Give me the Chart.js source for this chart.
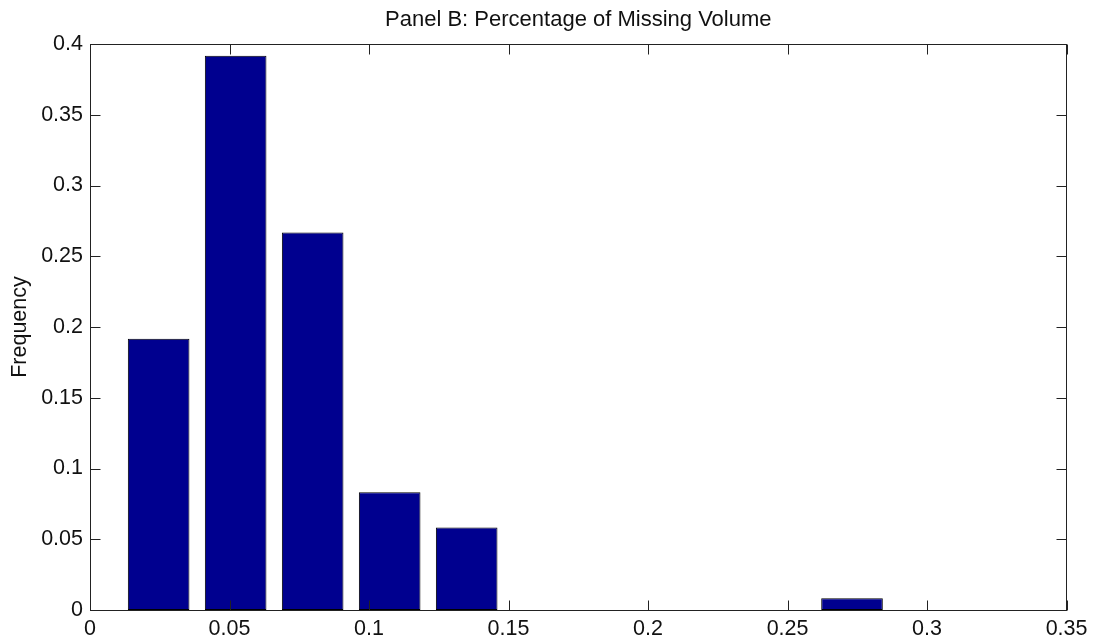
<!DOCTYPE html>
<html>
<head>
<meta charset="utf-8">
<title>Panel B: Percentage of Missing Volume</title>
<script src="https://cdn.jsdelivr.net/npm/chart.js@4.4.1/dist/chart.umd.min.js"></script>
<style>
  html, body { margin: 0; padding: 0; background: #ffffff; }
  #wrap { width: 1094px; height: 642px; }
  canvas { display: block; }
</style>
</head>
<body>
<div id="wrap"><canvas id="hist" width="1094" height="642"></canvas></div>
<script>
// Histogram bins: centre of each bin and the share of observations in it
const binCenters = [0.0246, 0.0522, 0.0798, 0.1074, 0.1350, 0.1626, 0.1903, 0.2179, 0.2455, 0.2731];
const frequencies = [0.1917, 0.3917, 0.2667, 0.0833, 0.0583, 0, 0, 0, 0, 0.0083];

// Axis ticks
const xTickValues = [0, 0.05, 0.1, 0.15, 0.2, 0.25, 0.3, 0.35];
const xTickLabels = ['0', '0.05', '0.1', '0.15', '0.2', '0.25', '0.3', '0.35'];
const yTickValues = [0, 0.05, 0.1, 0.15, 0.2, 0.25, 0.3, 0.35, 0.4];
const yTickLabels = ['0', '0.05', '0.1', '0.15', '0.2', '0.25', '0.3', '0.35', '0.4'];

const titleText = 'Panel B: Percentage of Missing Volume';
const yAxisTitle = 'Frequency';

const FONT = '"Liberation Sans", Arial, Helvetica, sans-serif';
const INK = '#111111';
const AXIS = '#222222';

Chart.defaults.font.family = FONT;
Chart.defaults.color = INK;

// White page behind the plot
const whiteBackground = {
  id: 'whiteBackground',
  beforeDraw(chart) {
    const ctx = chart.ctx;
    ctx.save();
    ctx.fillStyle = '#ffffff';
    ctx.fillRect(0, 0, chart.width, chart.height);
    ctx.restore();
  }
};

// Boxed axes with short inward tick marks on all four sides
const boxedAxes = {
  id: 'boxedAxes',
  afterDatasetsDraw(chart) {
    const { ctx, chartArea: a, scales } = chart;
    const L = Math.floor(a.left) + 0.5;
    const R = Math.floor(a.right) + 0.5;
    const T = Math.floor(a.top) + 0.5;
    const B = Math.floor(a.bottom) + 0.5;
    const len = 10;
    ctx.save();
    ctx.strokeStyle = AXIS;
    ctx.lineWidth = 1;
    ctx.beginPath();
    scales.x.ticks.forEach(t => {
      const px = Math.round(scales.x.getPixelForValue(t.value)) + 0.5;
      ctx.moveTo(px, B); ctx.lineTo(px, B - len);
      ctx.moveTo(px, T); ctx.lineTo(px, T + len);
    });
    scales.y.ticks.forEach(t => {
      const py = Math.round(scales.y.getPixelForValue(t.value)) + 0.5;
      ctx.moveTo(L, py); ctx.lineTo(L + len, py);
      ctx.moveTo(R, py); ctx.lineTo(R - len, py);
    });
    ctx.stroke();
    ctx.strokeRect(L, T, R - L, B - T);
    ctx.restore();
  }
};

new Chart(document.getElementById('hist'), {
  type: 'bar',
  data: {
    datasets: [{
      data: binCenters.map((x, i) => ({ x: x, y: frequencies[i] })),
      backgroundColor: '#00008F',
      borderColor: '#000000',
      borderWidth: 1,
      borderSkipped: false,
      categoryPercentage: 0.8,
      barPercentage: 1.0
    }]
  },
  options: {
    responsive: false,
    animation: false,
    devicePixelRatio: 1,
    layout: { padding: { left: 0, right: 27, top: 0, bottom: 0 } },
    plugins: {
      legend: { display: false },
      tooltip: { enabled: false },
      title: { display: false }
    },
    scales: {
      x: {
        type: 'linear',
        position: 'bottom',
        min: 0,
        max: 0.35,
        offset: false,
        grid: { display: false, drawTicks: false, offset: false },
        border: { display: false },
        afterBuildTicks(scale) {
          scale.ticks = xTickValues.map(v => ({ value: v }));
        },
        afterFit(scale) { scale.height = 32; },
        ticks: {
          autoSkip: false,
          maxRotation: 0,
          padding: 6.5,
          color: INK,
          font: { family: FONT, size: 21.5 },
          callback(value) {
            const i = xTickValues.findIndex(v => Math.abs(v - value) < 1e-9);
            return i >= 0 ? xTickLabels[i] : '';
          }
        }
      },
      // Top frame edge carrying the panel title, centred over the plot area
      xTop: {
        type: 'linear',
        position: 'top',
        display: true,
        min: 0,
        max: 0.35,
        offset: false,
        grid: { display: false, drawTicks: false },
        border: { display: false },
        ticks: { display: false },
        afterFit(scale) { scale.height = 44; },
        title: {
          display: true,
          text: titleText,
          color: INK,
          font: { family: FONT, size: 22, weight: 'normal' },
          padding: { top: 7.2, bottom: 0 }
        }
      },
      y: {
        type: 'linear',
        min: 0,
        max: 0.4,
        grid: { display: false, drawTicks: false },
        border: { display: false },
        afterBuildTicks(scale) {
          scale.ticks = yTickValues.map(v => ({ value: v }));
        },
        afterFit(scale) { scale.width = 90; },
        title: {
          display: true,
          text: yAxisTitle,
          color: INK,
          font: { family: FONT, size: 21.5, weight: 'normal' },
          padding: { top: 7, bottom: 0 }
        },
        ticks: {
          autoSkip: false,
          padding: 7,
          color: INK,
          font: { family: FONT, size: 21.5 },
          callback(value) {
            const i = yTickValues.findIndex(v => Math.abs(v - value) < 1e-9);
            return i >= 0 ? yTickLabels[i] : '';
          }
        }
      }
    }
  },
  plugins: [whiteBackground, boxedAxes]
});
</script>
</body>
</html>
